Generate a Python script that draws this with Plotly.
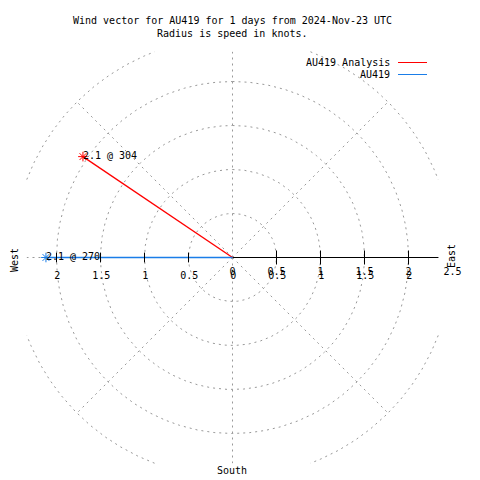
import numpy as np
import plotly.graph_objects as go

# ---------------- data ----------------
title_lines = ["Wind vector for AU419 for 1 days from 2024-Nov-23 UTC",
               "Radius is speed in knots."]
series_names = ["AU419 Analysis", "AU419"]
series_colors = ["#ff0000", "#1a7de8"]
speeds = [2.05, 2.12]          # knots (radius)
directions = [304, 270]        # degrees, compass bearing
point_labels = ["2.1 @ 304", "2.1 @ 270"]

grid_radii = [0.5, 1.0, 1.5, 2.0, 2.5]
spoke_angles = [0, 45, 90, 135, 180, 225, 270, 315]
r_max = 2.34

r_ticks = [0, 0.5, 1, 1.5, 2, 2.5]
r_tick_labels = ["0", "0.5", "1", "1.5", "2", "2.5"]
x_ticks = [-2, -1.5, -1, -0.5, 0, 0.5, 1, 1.5, 2]
x_tick_labels = ["2", "1.5", "1", "0.5", "0", "0.5", "1", "1.5", "2"]
compass_labels = ["West", "East", "South"]

# ---------------- layout constants ----------------
W = H = 480
CX, CY, S = 232.5, 257.5, 88.0   # centre pixel and pixels per knot
FONT = "DejaVu Sans Mono"
GRID = "#999999"


def ux(px):
    return (px - CX) / S


def uy(py):
    return (CY - py) / S


fig = go.Figure()

# polar grid: circles
gx, gy = [], []
for r in grid_radii:
    th = np.linspace(0, 2 * np.pi, 1441)
    x = r * np.sin(th)
    y = r * np.cos(th)
    m = (np.abs(x) > r_max) | (np.abs(y) > r_max)
    x[m] = np.nan
    y[m] = np.nan
    gx += list(x) + [None]
    gy += list(y) + [None]
fig.add_trace(go.Scatter(x=gx, y=gy, mode="lines",
                         line=dict(color=GRID, width=1, dash="2px,4px"),
                         hoverinfo="skip"))

# polar grid: spokes
sx, sy = [], []
for a in spoke_angles:
    t = np.linspace(0, 2.5, 400)
    x = t * np.sin(np.radians(a))
    y = t * np.cos(np.radians(a))
    m = (np.abs(x) > r_max) | (np.abs(y) > r_max)
    x[m] = np.nan
    y[m] = np.nan
    sx += list(x) + [None]
    sy += list(y) + [None]
fig.add_trace(go.Scatter(x=sx, y=sy, mode="lines",
                         line=dict(color=GRID, width=1, dash="2px,4px"),
                         hoverinfo="skip"))

# radial axis line
fig.add_trace(go.Scatter(x=[0, r_max], y=[0, 0], mode="lines",
                         line=dict(color="black", width=1), hoverinfo="skip"))

# wind vectors
px_pts = [float(round(s * np.sin(np.radians(d)), 6)) for s, d in zip(speeds, directions)]
py_pts = [float(round(s * np.cos(np.radians(d)), 6)) for s, d in zip(speeds, directions)]
for i in range(len(speeds)):
    fig.add_trace(go.Scatter(x=[0, px_pts[i]], y=[0, py_pts[i]], mode="lines",
                             line=dict(color=series_colors[i], width=1.3,
                                       simplify=False),
                             hoverinfo="skip"))

# ticks
right_ticks = [t for t in r_ticks if 0 < t < r_max]
left_ticks = [t for t in x_ticks if t < 0]
fig.add_trace(go.Scatter(x=right_ticks, y=[0] * len(right_ticks), mode="markers",
                         marker=dict(symbol="line-ns", size=10, color="black",
                                     line=dict(width=1, color="black")),
                         hoverinfo="skip"))
fig.add_trace(go.Scatter(x=left_ticks, y=[0] * len(left_ticks), mode="markers",
                         marker=dict(symbol="line-ns", size=7, color="black",
                                     line=dict(width=1, color="black")),
                         hoverinfo="skip"))

# markers & labels
for i in range(len(speeds)):
    fig.add_trace(go.Scatter(x=[px_pts[i]], y=[py_pts[i]], mode="markers",
                             marker=dict(symbol="asterisk-open", size=8,
                                         color=series_colors[i],
                                         line=dict(width=1, color=series_colors[i])),
                             hoverinfo="skip"))
    fig.add_trace(go.Scatter(x=[px_pts[i]], y=[py_pts[i]], mode="text",
                             text=[point_labels[i]], textposition="middle right",
                             textfont=dict(family=FONT, size=10, color="black"),
                             hoverinfo="skip"))

# tick labels
fig.add_trace(go.Scatter(x=r_ticks, y=[uy(272.5)] * len(r_ticks), mode="text",
                         text=r_tick_labels, textposition="middle center",
                         textfont=dict(family=FONT, size=10, color="black"),
                         hoverinfo="skip"))
fig.add_trace(go.Scatter(x=[t + 0.008 for t in x_ticks], y=[uy(276)] * len(x_ticks),
                         mode="text", text=x_tick_labels, textposition="middle center",
                         textfont=dict(family=FONT, size=10, color="black"),
                         hoverinfo="skip"))

annotations = []
# titles
annotations.append(dict(x=ux(232), y=uy(20), text=title_lines[0], showarrow=False,
                        xanchor="center", yanchor="middle",
                        font=dict(family=FONT, size=10, color="black")))
annotations.append(dict(x=ux(232), y=uy(33), text=title_lines[1], showarrow=False,
                        xanchor="center", yanchor="middle",
                        font=dict(family=FONT, size=10, color="black")))
# compass labels
annotations.append(dict(x=ux(14), y=uy(260), text=compass_labels[0], showarrow=False,
                        textangle=-90, font=dict(family=FONT, size=10, color="black")))
annotations.append(dict(x=ux(451), y=uy(256), text=compass_labels[1], showarrow=False,
                        textangle=-90, font=dict(family=FONT, size=10, color="black")))
annotations.append(dict(x=ux(232), y=uy(470), text=compass_labels[2], showarrow=False,
                        font=dict(family=FONT, size=10, color="black")))

# legend
shapes = []
for i, name in enumerate(series_names):
    ly = 62.5 + 12 * i
    annotations.append(dict(x=ux(392), y=uy(ly), text=name, showarrow=False,
                            xanchor="right", yanchor="middle",
                            font=dict(family=FONT, size=10, color="black")))
    shapes.append(dict(type="line", xref="x", yref="y",
                       x0=ux(398), x1=ux(427), y0=uy(ly), y1=uy(ly),
                       line=dict(color=series_colors[i], width=1)))

fig.update_layout(
    width=W, height=H,
    margin=dict(l=0, r=0, t=0, b=0),
    paper_bgcolor="white", plot_bgcolor="white",
    showlegend=False, hovermode=False,
    xaxis=dict(range=[ux(0), ux(W)], visible=False, fixedrange=True),
    yaxis=dict(range=[uy(H), uy(0)], visible=False, fixedrange=True),
    annotations=annotations, shapes=shapes,
)

fig.write_html("out.html", config={"displayModeBar": False},
               post_script="document.body.style.margin='0';")
